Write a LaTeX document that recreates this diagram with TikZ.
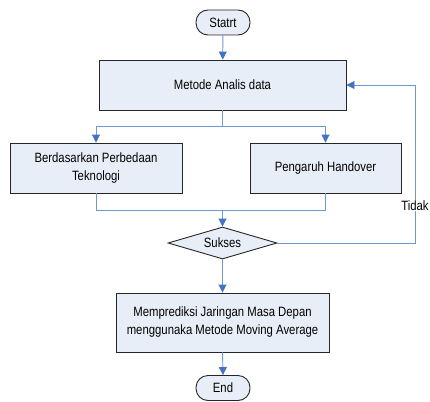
\documentclass[tikz,border=0pt]{standalone}
\usepackage{fontspec}
\setmainfont[FakeStretch=0.84]{Liberation Sans}
\usetikzlibrary{shapes.geometric,arrows.meta}
\definecolor{boxfill}{HTML}{E8EEF8}
\definecolor{boxdraw}{HTML}{262626}
\definecolor{linkc}{HTML}{7097D4}
\definecolor{tipc}{HTML}{4472C4}
\tikzset{
  box/.style={draw=boxdraw, fill=boxfill, line width=0.9pt, inner sep=0pt, align=center, font=\fontsize{13.5}{18}\selectfont},
  termbox/.style={box, rounded corners=12pt, minimum width=54pt, minimum height=25pt},
  decide/.style={box, diamond, aspect=3.4, minimum width=109pt, minimum height=32pt},
  link/.style={draw=linkc, line width=0.9pt},
  arr/.style={link, -{Triangle[width=8pt,length=8pt,color=tipc]}},
  lbl/.style={fill=white, inner sep=1pt, font=\fontsize{13.5}{18}\selectfont}
}
\begin{document}
\begin{tikzpicture}[x=1pt,y=-1pt]
\useasboundingbox (0,0) rectangle (430,401);
\node[termbox] (start) at (223,22.5) {Statrt};
\node[box, minimum width=247pt, minimum height=50pt] (metode) at (222.5,85) {Metode Analis data};
\node[box, minimum width=172pt, minimum height=50pt] (berdas) at (96,168) {Berdasarkan Perbedaan\\Teknologi};
\node[box, minimum width=151pt, minimum height=50pt] (pengaruh) at (325.5,168) {Pengaruh Handover};
\node[decide] (sukses) at (222.5,243) {Sukses};
\node[box, minimum width=213pt, minimum height=59pt] (predik) at (222.5,322.5) {Memprediksi Jaringan Masa Depan\\menggunaka Metode Moving Average};
\node[termbox] (end) at (223,388) {End};
\coordinate (split) at (222.5,126);
\coordinate (merge) at (222.5,210);
\coordinate (loopa) at (415,243);
\coordinate (loopb) at (415,85);
\draw[arr] (start) -- (metode);
\draw[link] (metode.south) -- (split);
\draw[arr] (split) -| (berdas.north);
\draw[arr] (split) -| (pengaruh.north);
\draw[link] (berdas.south) |- (merge);
\draw[link] (pengaruh.south) |- (merge);
\draw[arr] (merge) -- (sukses.north);
\draw[arr] (sukses.east) -- (loopa) -- (loopb) -- (metode.east);
\node[lbl] (tidak) at (415,205.5) {Tidak};
\draw[arr] (sukses.south) -- (predik.north);
\draw[arr] (predik.south) -- (end.north);
\end{tikzpicture}
\end{document}
